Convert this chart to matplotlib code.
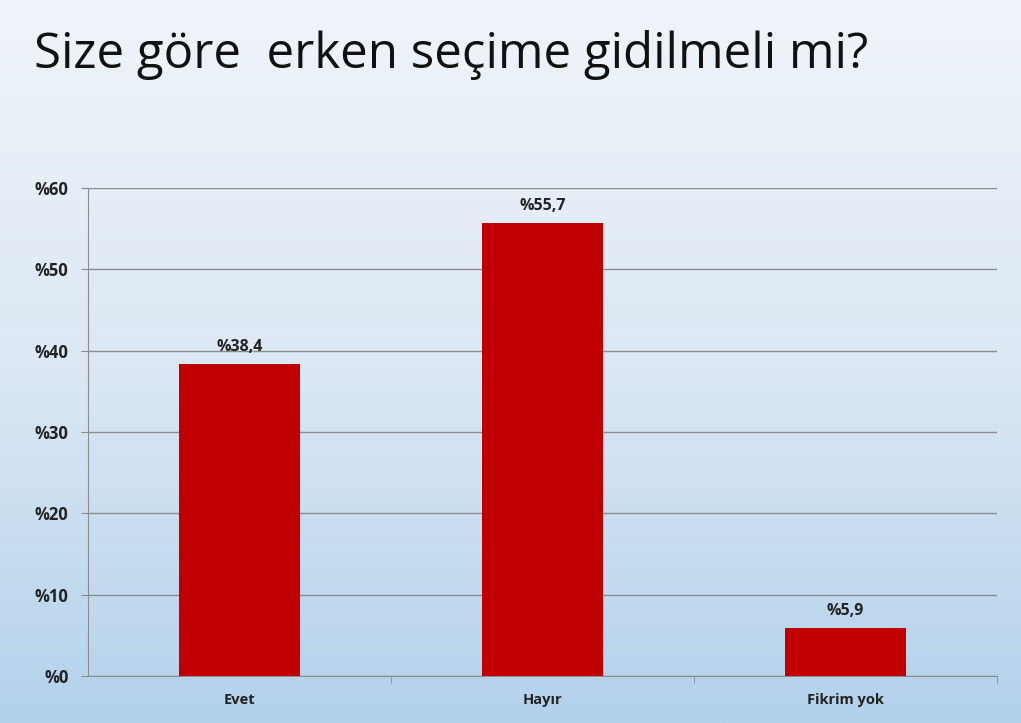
import numpy as np
import matplotlib.pyplot as plt
from matplotlib.colors import LinearSegmentedColormap

plt.rcParams['font.family'] = ['Open Sans', 'DejaVu Sans']

categories = ["Evet", "Hayır", "Fikrim yok"]
values = [38.4, 55.7, 5.9]
value_labels = ["%38,4", "%55,7", "%5,9"]
yticks = [0, 10, 20, 30, 40, 50, 60]
ytick_labels = ["%0", "%10", "%20", "%30", "%40", "%50", "%60"]
title = "Size göre  erken seçime gidilmeli mi?"

fig = plt.figure(figsize=(10.21, 7.23), dpi=100)

# background gradient
bg = fig.add_axes([0, 0, 1, 1])
grad = np.linspace(0, 1, 256).reshape(-1, 1)
cmap = LinearSegmentedColormap.from_list("bg", ["#F0F4FA", "#DCE8F4", "#B3D1EC"])
bg.imshow(grad, aspect="auto", cmap=cmap, extent=[0, 1, 0, 1], origin="upper")
bg.axis("off")

fig.text(34 / 1021, 1 - 55 / 723, title, fontsize=35.5, va="center", ha="left", color="#111111")

ax = fig.add_axes([88 / 1021, 1 - 676 / 723, (997 - 88) / 1021, (676 - 188) / 723])
ax.patch.set_alpha(0)
x = np.arange(len(categories))
ax.bar(x, values, width=0.4, color="#C00000", zorder=3)
for xi, v, lab in zip(x, values, value_labels):
    ax.text(xi, v + 1.1, lab, ha="center", va="bottom", fontsize=11.5, fontweight="bold", color="#222222")

ax.set_xlim(-0.5, 2.5)
ax.set_ylim(0, 60)
ax.set_yticks(yticks)
ax.set_yticklabels(ytick_labels, fontsize=12, fontweight="bold", color="#222222")
ax.set_xticks(x)
ax.set_xticklabels(categories, fontsize=10.5, fontweight="bold", color="#222222")
ax.set_xticks([0.5, 1.5, 2.5], minor=True)
ax.tick_params(axis="x", which="major", length=0, pad=12)
ax.tick_params(axis="x", which="minor", length=5, color="#888888")
ax.tick_params(axis="y", length=5, color="#888888", pad=9)
ax.grid(axis="y", color="#8C8C8C", linewidth=1, zorder=0)
for s in ["top", "right"]:
    ax.spines[s].set_visible(False)
for s in ["left", "bottom"]:
    ax.spines[s].set_color("#8C8C8C")

plt.savefig("out.png", dpi=100)
